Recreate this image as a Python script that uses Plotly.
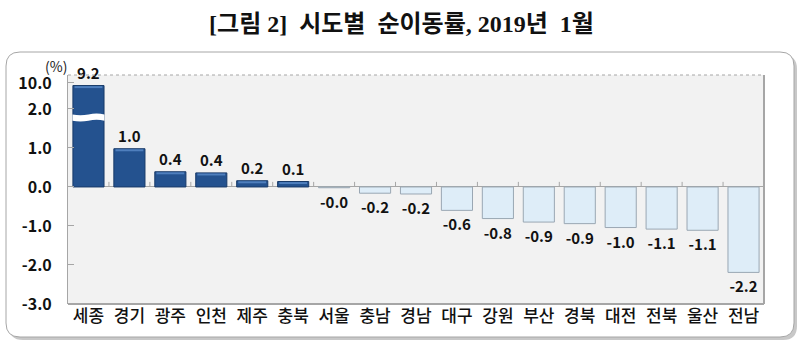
import plotly.graph_objects as go

# ---- data ----
regions = ["세종", "경기", "광주", "인천", "제주", "충북", "서울", "충남", "경남",
           "대구", "강원", "부산", "경북", "대전", "전북", "울산", "전남"]
rates = [9.2, 0.98, 0.39, 0.36, 0.16, 0.14, -0.02, -0.16, -0.18,
         -0.60, -0.81, -0.90, -0.94, -1.04, -1.08, -1.11, -2.19]
ytick_values = [-3.0, -2.0, -1.0, 0.0, 1.0, 2.0, 10.0]

BREAK = 2.0
COMPRESS = 0.0833  # scale of the broken part of the axis above 2.0


def to_axis(v):
    return v if v <= BREAK else BREAK + (v - BREAK) * COMPRESS


y_disp = [to_axis(v) for v in rates]
labels = [f"{v:.1f}" for v in rates]
colors = ["#24528f" if v > 0 else "#deedf8" for v in rates]
lines = ["#183a69" if v > 0 else "#9aa7b3" for v in rates]

FONT = "Noto Sans CJK KR"

fig = go.Figure()
fig.add_trace(go.Bar(
    x=regions, y=y_disp, width=0.76,
    marker=dict(color=colors, line=dict(color=lines, width=1)),
    text=labels, textposition="outside", cliponaxis=False,
    textfont=dict(family=FONT, size=15, color="#111111", weight="bold"),
    hoverinfo="skip",
))

shapes = []
# outer rounded frame (shadow + box)
def rounded(x0, y0, x1, y1, rx, ry):
    return (f"M {x0+rx},{y0} L {x1-rx},{y0} Q {x1},{y0} {x1},{y0+ry} "
            f"L {x1},{y1-ry} Q {x1},{y1} {x1-rx},{y1} L {x0+rx},{y1} "
            f"Q {x0},{y1} {x0},{y1-ry} L {x0},{y0+ry} Q {x0},{y0} {x0+rx},{y0} Z")

pw, ph = 696.0, 229.0
bx0, bx1 = (6 - 68) / pw, (794 - 68) / pw
by0, by1 = -(337 - 304) / ph, 1 + (75 - 52) / ph
shapes.append(dict(type="path", xref="paper", yref="paper", layer="below",
                   path=rounded(bx0 + 3 / pw, by0 - 3 / ph, bx1 + 3 / pw, by1 - 3 / ph, 14 / pw, 14 / ph),
                   fillcolor="#c8c8c8", line=dict(width=0)))
shapes.append(dict(type="path", xref="paper", yref="paper", layer="below",
                   path=rounded(bx0, by0, bx1, by1, 14 / pw, 14 / ph),
                   fillcolor="white", line=dict(color="#a6a6a6", width=1)))
# plot area background
shapes.append(dict(type="rect", xref="paper", yref="paper", layer="below",
                   x0=0, x1=1, y0=0, y1=1, fillcolor="#f2f2f2", line=dict(width=0)))
# plot area border: dotted top, solid right/bottom
shapes.append(dict(type="line", xref="paper", yref="paper", x0=0, x1=1, y0=1, y1=1,
                   line=dict(color="#a6a6a6", width=1, dash="dot")))
shapes.append(dict(type="line", xref="paper", yref="paper", x0=1, x1=1, y0=0, y1=1,
                   line=dict(color="#a6a6a6", width=2)))
shapes.append(dict(type="line", xref="paper", yref="paper", x0=0, x1=1, y0=0, y1=0,
                   line=dict(color="#a6a6a6", width=2)))
# category tick marks on zero line
for i in range(1, len(regions)):
    shapes.append(dict(type="line", xref="x", yref="y", x0=i - 0.5, x1=i - 0.5,
                       y0=0, y1=0.13, line=dict(color="#a6a6a6", width=1)))
# bevel highlight on positive bars (thin lighter strip near the top)
for i, v in enumerate(y_disp):
    if v > 0.1:
        shapes.append(dict(type="line", xref="x", yref="y", layer="above",
                           x0=i - 0.34, x1=i + 0.34, y0=v - 0.04, y1=v - 0.04,
                           line=dict(color="#4f7fbd", width=2)))
# axis break band on the first bar
shapes.append(dict(type="path", xref="x", yref="y", layer="above",
                   path="M -0.39,1.70 Q -0.2,1.66 0,1.70 Q 0.2,1.74 0.39,1.70 "
                        "L 0.39,1.86 Q 0.2,1.90 0,1.86 Q -0.2,1.82 -0.39,1.86 Z",
                   fillcolor="white", line=dict(width=0)))

fig.update_layout(
    width=803, height=350,
    margin=dict(l=68, r=39, t=75, b=46),
    paper_bgcolor="white", plot_bgcolor="rgba(0,0,0,0)",
    showlegend=False, bargap=0.24,
    shapes=shapes,
    title=dict(text="<b>[그림 2]  시도별  순이동률, 2019년  1월</b>",
               x=0.5, xanchor="center", y=1 - 24 / 350, yanchor="middle",
               font=dict(family="Liberation Serif, " + FONT, size=24, color="#111111")),
    annotations=[dict(text="(%)", xref="paper", yref="paper", x=0, y=1, xanchor="right",
                      yanchor="bottom", xshift=1, yshift=-3, showarrow=False,
                      font=dict(family=FONT, size=14, color="#222222"))],
)
fig.update_xaxes(showline=False, ticks="", showgrid=False,
                 tickfont=dict(family=FONT, size=17, color="#111111", weight=500))
fig.update_yaxes(range=[-3.0, 2.87], tickvals=[to_axis(v) for v in ytick_values],
                 ticktext=[f"{v:.1f}" for v in ytick_values],
                 showgrid=False, zeroline=True, zerolinecolor="#a6a6a6", zerolinewidth=1,
                 showline=True, linecolor="#a6a6a6", linewidth=1,
                 ticks="inside", ticklen=6, tickcolor="#a6a6a6", ticklabelstandoff=12,
                 tickfont=dict(family=FONT, size=16, color="#111111", weight="bold"))

fig.write_html("out.html")
